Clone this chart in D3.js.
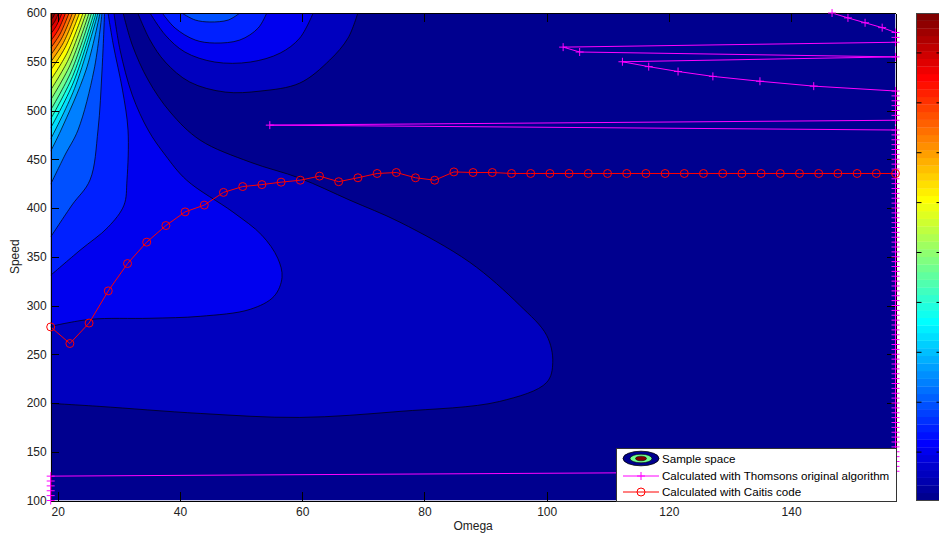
<!DOCTYPE html>
<html>
<head>
<meta charset="utf-8">
<title>Sample space</title>
<script src="https://cdn.jsdelivr.net/npm/d3@7/dist/d3.min.js"></script>
<style>
  body { margin: 0; background: #fff; }
  #chart svg { display: block; font-family: "Liberation Sans", Arial, sans-serif; }
  .axis text { font-size: 12px; fill: #222; }
  .axis path, .axis line { stroke: #000; shape-rendering: crispEdges; }
</style>
</head>
<body>
<div id="chart"></div>
<script>
// ---- data ----
const OMIN = 18.85, OMAX = 157.08;
const Lo = OMIN, Hi = OMAX;

// Caitis code: omega (pi steps) and speed
const caitisOmega = [18.85,21.99,25.13,28.27,31.42,34.56,37.70,40.84,43.98,47.12,
  50.27,53.41,56.55,59.69,62.83,65.97,69.12,72.26,75.40,78.54,
  81.68,84.82,87.96,91.11,94.25,97.39,100.53,103.67,106.81,109.96,
  113.10,116.24,119.38,122.52,125.66,128.81,131.95,135.09,138.23,141.37,
  144.51,147.65,150.80,153.94,157.08];
const caitisSpeed = [278,261,282,315,343,365,382,396,403,416,
  422,424,426.5,428.5,432.7,427,431,435.4,436.4,431,
  428.5,437,436.4,436.4,435.4,435.4,435.4,435.4,435.4,435.4,
  435.4,435.4,435.4,435.4,435.4,435.4,435.4,435.4,435.4,435.4,
  435.4,435.4,435.4,435.4,435.4];

// Thomsons original algorithm: speed and omega
const thomsonSpeed = [100,105,110,115,120,125,130,135,140,145,
  150,155,160,165,170,175,180,185,190,195,
  200,205,210,215,220,225,230,235,240,245,
  250,255,260,265,270,275,280,285,290,295,
  300,305,310,315,320,325,330,335,340,345,
  350,355,360,365,370,375,380,385,390,395,
  400,405,410,415,420,425,430,435,440,445,
  450,455,460,465,470,475,480,485,490,495,
  500,505,510,515,520,525,530,535,540,545,
  550,555,560,565,570,575,580,585,590,595,
  600];
const thomsonOmega = [Lo,Lo,Lo,Lo,Lo,Lo,Hi,Hi,Hi,Hi,
  Hi,Hi,Hi,Hi,Hi,Hi,Hi,Hi,Hi,Hi,
  Hi,Hi,Hi,Hi,Hi,Hi,Hi,Hi,Hi,Hi,
  Hi,Hi,Hi,Hi,Hi,Hi,Hi,Hi,Hi,Hi,
  Hi,Hi,Hi,Hi,Hi,Hi,Hi,Hi,Hi,Hi,
  Hi,Hi,Hi,Hi,Hi,Hi,Hi,Hi,Hi,Hi,
  Hi,Hi,Hi,Hi,Hi,Hi,Hi,Hi,Hi,Hi,
  Hi,Hi,Hi,Hi,Hi,Hi,Hi,54.7,Hi,Hi,
  Hi,Hi,Hi,Hi,Hi,143.7,134.9,127.2,121.5,116.7,
  112.4,Hi,105.4,102.7,Hi,Hi,Hi,154.9,152.1,149.3,
  146.7];

// sample space contour lines [omega, speed], level k = index + 1
// these run from the left edge up to the top edge
const edgeContours = [
  [[18.85,199.6],[26.9,196.5],[43.3,189.3],[59.6,185.2],[76.0,191.4],[92.3,201.6],[100.0,221.1],[101.0,241.7],[100.0,269.4],[95.6,300.2],[87.4,344.4],[76.0,385.4],[67.8,408.0],[59.6,430.6],[51.5,447.0],[43.3,469.6],[38.4,498.4],[34.8,531.2],[32.2,567.1],[30.7,600]],
  [[18.85,278.6],[25.3,285.8],[35.1,286.9],[43.3,288.9],[51.5,296.1],[55.4,309.5],[56.7,328.9],[56.0,348.5],[53.4,372.1],[48.7,395.7],[41.1,428.5],[37.6,454.2],[34.8,479.9],[32.2,515.8],[30.2,562.0],[29.2,600]],
  [[18.85,331.0],[23.65,356.7],[28.23,380.3],[30.84,402.9],[31.33,428.5],[31.50,479.9],[30.6,520.9],[29.1,567.1],[28.23,600]],
  [[18.85,370.3],[22.34,403.1],[25.28,428.7],[26.59,480.0],[27.25,541.5],[27.66,600]],
  [[18.85,424.4],[21.19,454.4],[23.32,480.0],[25.94,541.5],[27.25,600]],
  [[18.85,458.3],[20.54,480.0],[24.63,541.5],[26.92,600]],
  [[18.85,470.8],[22.75,522.5],[26.59,600]],
  [[18.85,482.1],[22.59,529.2],[26.27,600]],
  [[18.85,491.3],[22.42,534.8],[25.94,600]],
  [[18.85,500.5],[22.22,540.3],[25.53,600]],
  [[18.85,510.8],[22.01,546.5],[25.12,600]],
  [[18.85,521.0],[21.77,552.6],[24.63,600]],
  [[18.85,531.3],[21.52,558.8],[24.14,600]],
  [[18.85,541.5],[21.24,564.9],[23.57,600]],
  [[18.85,549.7],[20.95,569.8],[22.99,600]],
  [[18.85,556.9],[20.66,574.2],[22.42,600]],
  [[18.85,564.1],[20.38,578.5],[21.85,600]],
  [[18.85,571.3],[20.09,582.8],[21.28,600]],
  [[18.85,578.5],[19.80,587.1],[20.70,600]],
  [[18.85,585.6],[19.52,591.4],[20.13,600]],
  [[18.85,592.8],[19.23,595.7],[19.56,600]]
];
// closed arcs of the hump that sits above the top edge, levels 1..4
const humpContours = [
  [[33.1,600],[35.1,572.3],[37.6,549.7],[41.6,529.2],[47.4,518.9],[53.1,519.9],[59.6,528.1],[64.5,551.7],[67.5,574.3],[69.1,600]],
  [[35.1,600],[37.6,577.4],[40.8,560.0],[45.7,549.7],[51.5,549.7],[56.4,558.9],[59.6,574.3],[61.8,600]],
  [[37.1,600],[39.2,584.6],[42.5,572.3],[45.7,569.2],[49.8,572.3],[52.8,584.6],[54.2,600]],
  [[40.3,600],[42.5,592.8],[44.9,590.8],[47.9,592.8],[49.8,600]]
];

const xTicks = [20, 40, 60, 80, 100, 120, 140];
const yTicks = [100, 150, 200, 250, 300, 350, 400, 450, 500, 550, 600];
const cbDomain = [0.03, 9.8];
const cbTicks = [1, 2, 3, 4, 5, 6, 7, 8, 9];
const legendLabels = ["Sample space", "Calculated with Thomsons original algorithm", "Calculated with Caitis code"];

// ---- drawing ----
const width = 939, height = 535;
const svg = d3.select("#chart").append("svg")
    .attr("width", width)
    .attr("height", height);

const x = d3.scaleLinear().domain([OMIN, OMAX]).range([50.7, 895.5]);
const y = d3.scaleLinear().domain([100, 600]).range([500.5, 13]);

// jet colormap, i is 0-based in an m colour map
function jet(i, m) {
    var n = Math.ceil(m / 4);
    var u = j => j < 1 ? 0 : j <= n ? j / n : j < 2 * n ? 1 : j <= 3 * n - 1 ? (3 * n - j) / n : 0;
    var g0 = Math.ceil(n / 2) - (m % 4 === 1 ? 1 : 0);
    var I = i + 1;
    return d3.rgb(u(I - g0 - n) * 255, u(I - g0) * 255, u(I - g0 + n) * 255).toString();
}
var bandColor = k => jet(3 * k, 64);

svg.append("clipPath").attr("id", "plotClip")
  .append("rect")
    .attr("x", x(OMIN)).attr("y", y(600))
    .attr("width", x(OMAX) - x(OMIN)).attr("height", y(100) - y(600));

var plot = svg.append("g").attr("clip-path", "url(#plotClip)");

plot.append("rect")
    .attr("x", x(OMIN)).attr("y", y(600))
    .attr("width", x(OMAX) - x(OMIN)).attr("height", y(100) - y(600))
    .attr("fill", bandColor(0));

var smooth = d3.line()
    .x(d => x(d[0]))
    .y(d => y(d[1]))
    .curve(d3.curveCatmullRom.alpha(0.5));

// filled bands: region above each level contains the top-left corner
plot.selectAll("path.edgeFill")
    .data(edgeContours)
    .enter().append("path")
    .attr("class", "edgeFill")
    .attr("d", d => smooth(d) + "L" + x(OMIN) + "," + y(600) + "Z")
    .attr("fill", (d, i) => bandColor(i + 1));

plot.selectAll("path.humpFill")
    .data(humpContours)
    .enter().append("path")
    .attr("class", "humpFill")
    .attr("d", d => smooth(d) + "Z")
    .attr("fill", (d, i) => bandColor(i + 1));

plot.selectAll("path.contourLine")
    .data(edgeContours.concat(humpContours))
    .enter().append("path")
    .attr("class", "contourLine")
    .attr("d", smooth)
    .attr("fill", "none")
    .attr("stroke", "#000")
    .attr("stroke-width", 0.7);

// Thomson and Caitis series
var thomson = thomsonSpeed.map((s, i) => [thomsonOmega[i], s]);
var caitis = caitisSpeed.map((s, i) => [caitisOmega[i], s]);
var straight = d3.line().x(d => x(d[0])).y(d => y(d[1]));

svg.append("path")
    .attr("d", straight(thomson))
    .attr("fill", "none")
    .attr("stroke", "#ff00ff")
    .attr("stroke-width", 1);

svg.append("path")
    .attr("d", straight(caitis))
    .attr("fill", "none")
    .attr("stroke", "#ff0000")
    .attr("stroke-width", 1);

// axes, ticks pointing inward like matlab
var axBottom = svg.append("g").attr("class", "axis")
    .attr("transform", "translate(0," + y(100) + ")")
    .call(d3.axisBottom(x).tickValues(xTicks).tickSizeInner(-8.5).tickSizeOuter(0).tickPadding(7));
var axTop = svg.append("g").attr("class", "axis")
    .attr("transform", "translate(0," + y(600) + ")")
    .call(d3.axisTop(x).tickValues(xTicks).tickSizeInner(-8.5).tickSizeOuter(0).tickFormat(""));
var axLeft = svg.append("g").attr("class", "axis")
    .attr("transform", "translate(" + x(OMIN) + ",0)")
    .call(d3.axisLeft(y).tickValues(yTicks).tickSizeInner(-8.5).tickSizeOuter(0).tickPadding(4));
var axRight = svg.append("g").attr("class", "axis")
    .attr("transform", "translate(" + x(OMAX) + ",0)")
    .call(d3.axisRight(y).tickValues(yTicks).tickSizeInner(-8.5).tickSizeOuter(0).tickFormat(""));
[axBottom, axTop, axLeft, axRight].forEach(g => g.attr("font-family", null).attr("font-size", null));

svg.append("text")
    .attr("x", (x(OMIN) + x(OMAX)) / 2).attr("y", 530)
    .attr("text-anchor", "middle")
    .attr("font-size", 12).attr("fill", "#222")
    .text("Omega");
svg.append("text")
    .attr("transform", "translate(19," + (y(100) + y(600)) / 2 + ") rotate(-90)")
    .attr("text-anchor", "middle")
    .attr("font-size", 12).attr("fill", "#222")
    .text("Speed");

// markers are not clipped
svg.selectAll("path.plus")
    .data(thomson)
    .enter().append("path")
    .attr("class", "plus")
    .attr("transform", d => "translate(" + x(d[0]) + "," + y(d[1]) + ")")
    .attr("d", "M-4,0H4M0,-4V4")
    .attr("stroke", "#ff00ff")
    .attr("stroke-width", 1);

svg.selectAll("circle.ring")
    .data(caitis)
    .enter().append("circle")
    .attr("class", "ring")
    .attr("cx", d => x(d[0]))
    .attr("cy", d => y(d[1]))
    .attr("r", 4)
    .attr("fill", "none")
    .attr("stroke", "#ff0000")
    .attr("stroke-width", 1);

// colorbar
var cb = d3.scaleLinear().domain(cbDomain).range([500.5, 13]);
var cbX = 916.5, cbW = 25;
var nColors = 64, cellH = (500.5 - 13) / nColors;
svg.selectAll("rect.cb")
    .data(d3.range(nColors))
    .enter().append("rect")
    .attr("class", "cb")
    .attr("x", cbX)
    .attr("y", i => 500.5 - (i + 1) * cellH)
    .attr("width", cbW)
    .attr("height", cellH + 0.3)
    .attr("fill", i => jet(i, nColors));
svg.append("rect")
    .attr("x", cbX).attr("y", 13)
    .attr("width", cbW).attr("height", 487.5)
    .attr("fill", "none")
    .attr("stroke", "#444")
    .attr("shape-rendering", "crispEdges");
svg.selectAll("line.cbTickL")
    .data(cbTicks)
    .enter().append("line")
    .attr("class", "cbTickL")
    .attr("x1", cbX).attr("x2", cbX + 5)
    .attr("y1", d => cb(d)).attr("y2", d => cb(d))
    .attr("stroke", "#000");
svg.selectAll("line.cbTickR")
    .data(cbTicks)
    .enter().append("line")
    .attr("class", "cbTickR")
    .attr("x1", cbX + cbW - 5).attr("x2", cbX + cbW)
    .attr("y1", d => cb(d)).attr("y2", d => cb(d))
    .attr("stroke", "#000");

// legend
var leg = svg.append("g").attr("transform", "translate(616,448)");
leg.append("rect")
    .attr("width", 280).attr("height", 53)
    .attr("fill", "#fff")
    .attr("stroke", "#333")
    .attr("shape-rendering", "crispEdges");
var rowY = [10.5, 28, 44];
leg.append("ellipse").attr("cx", 25).attr("cy", rowY[0]).attr("rx", 18).attr("ry", 7.3)
    .attr("fill", bandColor(0)).attr("stroke", "#000").attr("stroke-width", 0.8);
leg.append("ellipse").attr("cx", 25).attr("cy", rowY[0]).attr("rx", 11).attr("ry", 4.3)
    .attr("fill", bandColor(10)).attr("stroke", "#000").attr("stroke-width", 0.6);
leg.append("ellipse").attr("cx", 25).attr("cy", rowY[0]).attr("rx", 5.5).attr("ry", 2.3)
    .attr("fill", bandColor(21)).attr("stroke", "#000").attr("stroke-width", 0.5);
leg.append("line").attr("x1", 7).attr("x2", 43).attr("y1", rowY[1]).attr("y2", rowY[1])
    .attr("stroke", "#ff00ff");
leg.append("path").attr("transform", "translate(25," + rowY[1] + ")")
    .attr("d", "M-4,0H4M0,-4V4").attr("stroke", "#ff00ff");
leg.append("line").attr("x1", 7).attr("x2", 43).attr("y1", rowY[2]).attr("y2", rowY[2])
    .attr("stroke", "#ff0000");
leg.append("circle").attr("cx", 25).attr("cy", rowY[2]).attr("r", 4)
    .attr("fill", "none").attr("stroke", "#ff0000");
leg.selectAll("text")
    .data(legendLabels)
    .enter().append("text")
    .attr("x", 46)
    .attr("y", (d, i) => rowY[i])
    .attr("dy", "0.36em")
    .attr("font-size", 11.6)
    .attr("fill", "#000")
    .text(d => d);
</script>
</body>
</html>
